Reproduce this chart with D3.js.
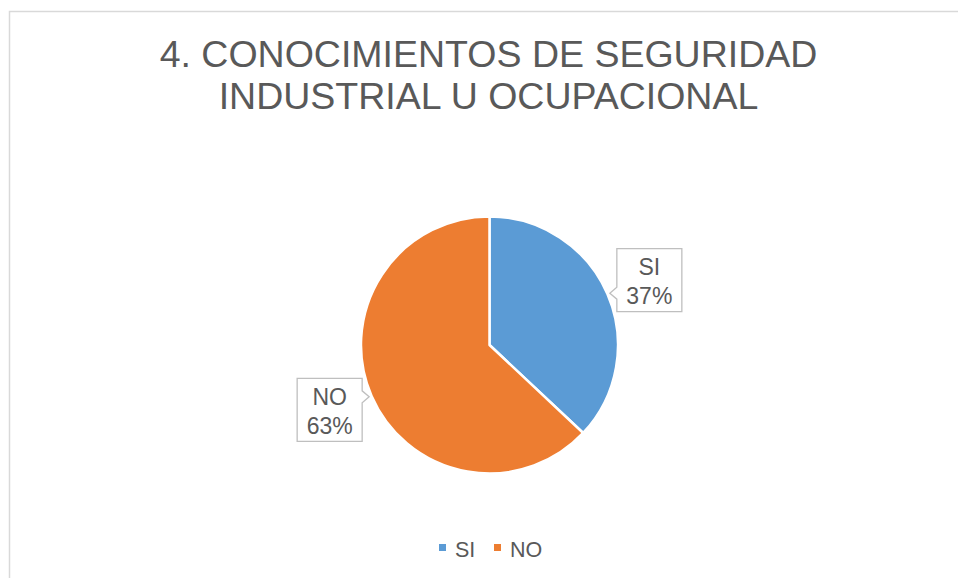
<!DOCTYPE html>
<html>
<head>
<meta charset="utf-8">
<script src="https://cdn.jsdelivr.net/npm/d3@7"></script>
<style>
  body { margin: 0; background: #fff; }
  svg { display: block; font-family: "Liberation Sans", Arial, sans-serif; }
</style>
</head>
<body>
<svg id="chart" width="958" height="578"></svg>
<script>
let categories = ['SI', 'NO'];
let values = [37, 63];
let colors = ['#5B9BD5', '#ED7D31'];
let titleLines = ['4. CONOCIMIENTOS DE SEGURIDAD', 'INDUSTRIAL U OCUPACIONAL'];

let svg = d3.select('#chart');
let W = 958, H = 578;
let cx = 489.5, cy = 345, r = 128.5;

// chart frame (runs off the right / bottom edge)
svg.append('rect')
    .attr('x', 9.5).attr('y', 11.5)
    .attr('width', W + 20).attr('height', H + 20)
    .attr('fill', '#fff')
    .attr('stroke', '#D9D9D9')
    .attr('stroke-width', 1.5);

// title
svg.append('g').selectAll('text')
    .data(titleLines)
    .enter()
    .append('text')
    .attr('x', cx - 1)
    .attr('y', (d, i) => 67 + i * 42)
    .attr('text-anchor', 'middle')
    .attr('fill', '#595959')
    .style('font-size', '37.5px')
    .text(d => d);

let pie = d3.pie().sort(null).value(d => d);
let arcs = pie(values);
let arc = d3.arc().innerRadius(0).outerRadius(r);

let g = svg.append('g').attr('transform', 'translate(' + cx + ',' + cy + ')');

g.selectAll('path.slice')
    .data(arcs)
    .enter()
    .append('path')
    .attr('class', 'slice')
    .attr('d', arc)
    .attr('fill', (d, i) => colors[i])
    .attr('stroke', '#fff')
    .attr('stroke-width', 2.5)
    .attr('stroke-linejoin', 'round');

// callout labels
let bw = 65, bh = 63, lr = 172.5;
let total = d3.sum(values);

function callout(side) {
    // side: -1 means pointer on left, 1 on right
    let x0 = -bw / 2, x1 = bw / 2, y0 = -bh / 2, y1 = bh / 2;
    let py = side < 0 ? 13 : -13;
    let n = 6, tip = 7;
    if (side < 0) {
        return 'M' + x0 + ',' + y0 + 'H' + x1 + 'V' + y1 + 'H' + x0 +
            'V' + (py + n) + 'L' + (x0 - tip) + ',' + py + 'L' + x0 + ',' + (py - n) + 'Z';
    }
    return 'M' + x0 + ',' + y0 + 'H' + x1 + 'V' + (py - n) + 'L' + (x1 + tip) + ',' + py +
        'L' + x1 + ',' + (py + n) + 'V' + y1 + 'H' + x0 + 'Z';
}

let lab = g.selectAll('g.lab')
    .data(arcs)
    .enter()
    .append('g')
    .attr('class', 'lab')
    .attr('transform', d => {
        let a = (d.startAngle + d.endAngle) / 2 + 0.023;
        return 'translate(' + (Math.sin(a) * lr) + ',' + (-Math.cos(a) * lr) + ')';
    });

lab.append('path')
    .attr('d', d => callout(Math.sin((d.startAngle + d.endAngle) / 2) > 0 ? -1 : 1))
    .attr('fill', '#fff')
    .attr('stroke', '#BFBFBF')
    .attr('stroke-width', 1.3);

lab.append('text')
    .attr('text-anchor', 'middle')
    .attr('fill', '#595959')
    .style('font-size', '23px')
    .selectAll('tspan')
    .data((d, i) => [categories[i], Math.round(d.value / total * 100) + '%'])
    .enter()
    .append('tspan')
    .attr('x', 0)
    .attr('y', (d, i) => i === 0 ? -5 : 24)
    .text(d => d);

// legend
let lx = d3.scalePoint().domain(categories).range([439, 494]);
let leg = svg.append('g').selectAll('g')
    .data(categories)
    .enter()
    .append('g')
    .attr('transform', d => 'translate(' + lx(d) + ',544)');

leg.append('rect')
    .attr('width', 7).attr('height', 7)
    .attr('fill', (d, i) => colors[i]);

leg.append('text')
    .attr('x', 16)
    .attr('y', 12.5)
    .attr('fill', '#595959')
    .style('font-size', '21.5px')
    .text(d => d);
</script>
</body>
</html>
